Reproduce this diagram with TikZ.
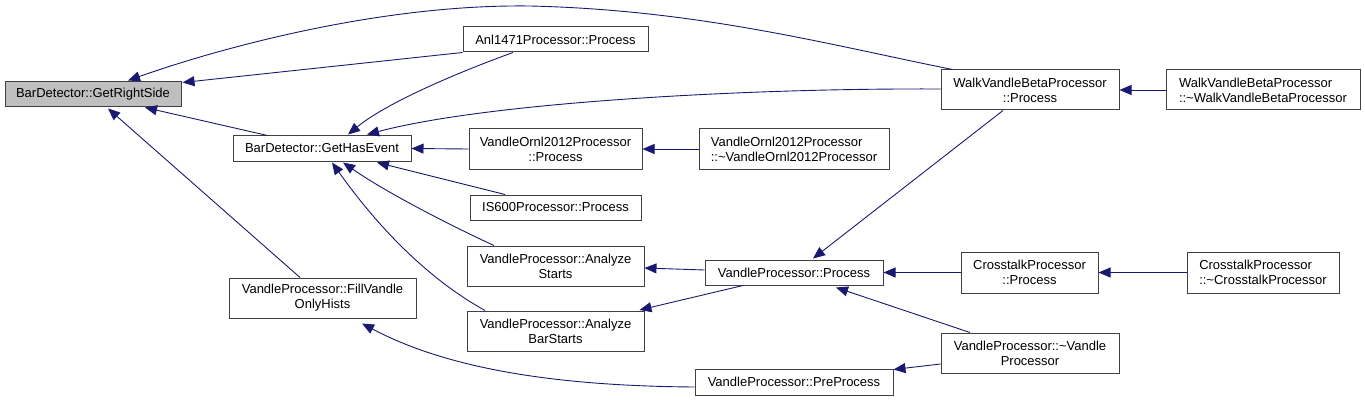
\documentclass[tikz,border=0pt]{standalone}
\usepackage{fontspec}
\setmainfont{Liberation Sans}
\usetikzlibrary{arrows.meta,calc}
\definecolor{edgeblue}{RGB}{25,25,112}
\definecolor{boxline}{RGB}{64,64,64}
\definecolor{boxgray}{RGB}{191,191,191}
\tikzset{
  box/.style={draw=boxline, line width=1pt, fill=white, inner sep=0pt, align=center,
    font=\fontsize{13pt}{15pt}\selectfont},
  lbox/.style={box, align=left},
  edge/.style={draw=edgeblue, line width=0.9pt, -{Triangle[length=12pt,width=10pt]}},
}
\begin{document}
\begin{tikzpicture}[x=1pt,y=-1pt]
\useasboundingbox (0,0) rectangle (1365,401);
% nodes
\node[box, fill=boxgray, minimum width=176pt, minimum height=25pt] (grs) at (93,94.5) {BarDetector::GetRightSide};
\node[box, minimum width=178pt, minimum height=25pt] (ghe) at (322,148.5) {BarDetector::GetHasEvent};
\node[box, minimum width=187pt, minimum height=40pt] (fvoh) at (322.5,298) {VandleProcessor::FillVandle\\OnlyHists};
\node[box, minimum width=185pt, minimum height=25pt] (anl) at (555.5,39.5) {Anl1471Processor::Process};
\node[box, minimum width=173pt, minimum height=40pt] (vop) at (555.5,149) {VandleOrnl2012Processor\\::Process};
\node[lbox, minimum width=190pt, minimum height=40pt] (vod) at (794,149) {VandleOrnl2012Processor\\::\textasciitilde VandleOrnl2012Processor};
\node[box, minimum width=171pt, minimum height=25pt] (is6) at (555.5,207.5) {IS600Processor::Process};
\node[box, minimum width=177pt, minimum height=40pt] (ast) at (555.5,266) {VandleProcessor::Analyze\\Starts};
\node[box, minimum width=177pt, minimum height=40pt] (abs) at (555.5,331) {VandleProcessor::Analyze\\BarStarts};
\node[box, minimum width=178pt, minimum height=25pt] (vpp) at (794,272.5) {VandleProcessor::Process};
\node[box, minimum width=198pt, minimum height=26pt] (vpre) at (794,382) {VandleProcessor::PreProcess};
\node[box, minimum width=178pt, minimum height=40pt] (wp) at (1030,90) {WalkVandleBetaProcessor\\::Process};
\node[lbox, minimum width=194pt, minimum height=40pt] (wd) at (1263,90) {WalkVandleBetaProcessor\\::\textasciitilde WalkVandleBetaProcessor};
\node[box, minimum width=137pt, minimum height=41pt] (cp) at (1029.5,272.5) {CrosstalkProcessor\\::Process};
\node[lbox, minimum width=152pt, minimum height=41pt] (cd) at (1263,272.5) {CrosstalkProcessor\\::\textasciitilde CrosstalkProcessor};
\node[box, minimum width=178pt, minimum height=40pt] (vpd) at (1030,353) {VandleProcessor::\textasciitilde Vandle\\Processor};
% edges
\draw[edge] (anl.south west) -- ($(grs.north east)+(1,1)$);
\draw[edge] ($(wp.north west)+(12,0)$) .. controls (830,45) and (700,10) .. (530,6) .. controls (380,4) and (220,48) .. ($(grs.north)+(35,-1)$);
\draw[edge] ($(ghe.north west)+(35,0)$) -- ($(grs.south)+(52,0)$);
\draw[edge] ($(fvoh.north)+(-22.5,0)$) -- ($(grs.south)+(15,1)$);
\draw[edge] ($(anl.south)+(-42.5,0)$) .. controls (470,68) and (390,100) .. ($(ghe.north)+(26,-1)$);
\draw[edge] ($(wp.west)+(0,-1)$) .. controls (750,88) and (490,102) .. ($(ghe.north)+(45,-1)$);
\draw[edge] (vop.west) -- (ghe.east);
\draw[edge] ($(is6.north)+(-50.5,0)$) -- ($(ghe.south)+(55,1)$);
\draw[edge] ($(ast.north)+(-61.5,0)$) .. controls (460,230) and (390,195) .. ($(ghe.south)+(21,1)$);
\draw[edge] ($(abs.north)+(-70.5,0)$) .. controls (430,280) and (380,230) .. ($(ghe.south)+(10,1)$);
\draw[edge] (vod.west) -- (vop.east);
\draw[edge] (wd.west) -- (wp.east);
\draw[edge] ($(vpp.west)+(0,-2.5)$) -- ($(ast.east)+(0,2)$);
\draw[edge] ($(vpp.south)+(-51,0)$) -- ($(abs.north east)+(-5,-0.5)$);
\draw[edge] ($(wp.south)+(-27,0)$) -- ($(vpp.north)+(19,-1)$);
\draw[edge] (cp.west) -- (vpp.east);
\draw[edge] (cd.west) -- (cp.east);
\draw[edge] ($(vpd.north)+(-60,0)$) -- ($(vpp.south)+(42,2)$);
\draw[edge] ($(vpd.west)+(0,11)$) -- ($(vpre.north east)+(0,1)$);
\draw[edge] ($(vpre.west)+(0,5)$) .. controls (560,386) and (450,370) .. ($(fvoh.south)+(39.5,5)$);
\end{tikzpicture}
\end{document}
